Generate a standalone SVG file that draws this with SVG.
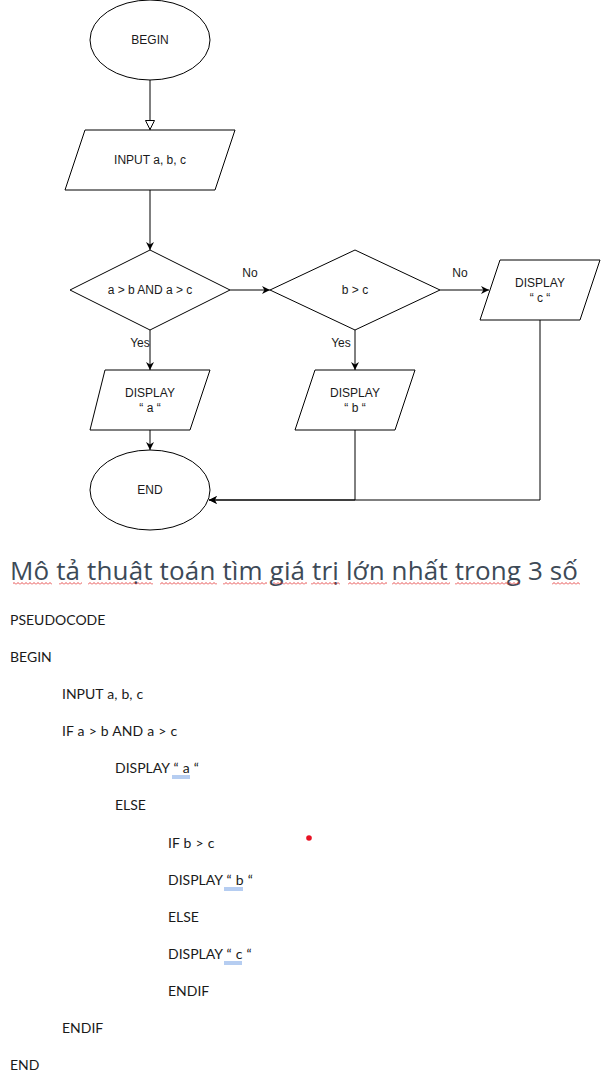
<svg xmlns="http://www.w3.org/2000/svg" width="601" height="1081" viewBox="0 0 601 1081">
<style>
.shape{fill:#ffffff;stroke:#000000;stroke-width:1}
.lbl{font-family:"Liberation Sans",Arial,sans-serif;font-size:12px;fill:#1a1a1a;text-anchor:middle}
.edge{fill:none;stroke:#000000;stroke-width:1}
.code{font-family:Lato,"Noto Sans",sans-serif;font-size:14px;fill:#1a1a1a;word-spacing:0.5px}
.title{font-family:"Open Sans","Noto Sans",sans-serif;font-size:26px;fill:#3d4a57}
.ul{stroke:#6d9be3;stroke-width:1}
</style>
<defs>
<marker id="classic" viewBox="0 0 10 10" refX="10" refY="5" markerWidth="8" markerHeight="8" markerUnits="userSpaceOnUse" orient="auto">
<path d="M0,0 L10,5 L0,10 L3,5 Z" fill="#000"/>
</marker>
<marker id="block" viewBox="0 0 10 10" refX="10" refY="5" markerWidth="10" markerHeight="10" markerUnits="userSpaceOnUse" orient="auto">
<path d="M0.5,0.5 L9.5,5 L0.5,9.5 Z" fill="#fff" stroke="#000" stroke-width="1"/>
</marker>
<pattern id="squig" width="4" height="3" patternUnits="userSpaceOnUse">
<path d="M0,2.5 L2,0.5 L4,2.5" fill="none" stroke="#e02020" stroke-width="0.8"/>
</pattern>
</defs>
<rect width="601" height="1081" fill="#ffffff"/>

<g id="connectors">
<path class="edge" d="M150,80 V130" marker-end="url(#block)"/>
<path class="edge" d="M150,190 V250" marker-end="url(#classic)"/>
<path class="edge" d="M230,290 H270" marker-end="url(#classic)"/>
<path class="edge" d="M440,290 H489" marker-end="url(#classic)"/>
<path class="edge" d="M150,330 V370" marker-end="url(#classic)"/>
<path class="edge" d="M355,330 V370" marker-end="url(#classic)"/>
<path class="edge" d="M150,430 V450" marker-end="url(#classic)"/>
<path class="edge" d="M355,430 V500 H209" marker-end="url(#classic)"/>
<path class="edge" d="M540,320 V500 H209" marker-end="url(#classic)"/>
<text class="lbl" x="250" y="277">No</text>
<text class="lbl" x="460" y="277">No</text>
<text class="lbl" x="140" y="347">Yes</text>
<text class="lbl" x="341" y="347">Yes</text>
</g>

<g id="begin">
<ellipse class="shape" cx="150" cy="40" rx="60" ry="40"/>
<text class="lbl" x="150" y="44">BEGIN</text>
</g>
<g id="input">
<polygon class="shape" points="85,130 235,130 215,190 65,190"/>
<text class="lbl" x="150" y="164">INPUT a, b, c</text>
</g>
<g id="cond1">
<polygon class="shape" points="70,290 150,250 230,290 150,330"/>
<text class="lbl" x="150" y="294">a &gt; b AND a &gt; c</text>
</g>
<g id="cond2">
<polygon class="shape" points="270,290 355,250 440,290 355,330"/>
<text class="lbl" x="355" y="294">b &gt; c</text>
</g>
<g id="display-c">
<polygon class="shape" points="500,260 600,260 580,320 480,320"/>
<text class="lbl" x="540" y="287">DISPLAY</text>
<text class="lbl" x="540" y="302" font-size="10">“ c “</text>
</g>
<g id="display-a">
<polygon class="shape" points="105,370 210,370 190,430 90,430"/>
<text class="lbl" x="150" y="397">DISPLAY</text>
<text class="lbl" x="150" y="412" font-size="10">“ a “</text>
</g>
<g id="display-b">
<polygon class="shape" points="315,370 415,370 395,430 295,430"/>
<text class="lbl" x="355" y="397">DISPLAY</text>
<text class="lbl" x="355" y="412" font-size="10">“ b “</text>
</g>
<g id="end">
<ellipse class="shape" cx="150" cy="490" rx="60" ry="40"/>
<text class="lbl" x="150" y="494">END</text>
</g>

<g id="title">
<text class="title" x="10" y="580" textLength="568" lengthAdjust="spacing">Mô tả thuật toán tìm giá trị lớn nhất trong 3 số</text>
<rect x="13" y="582" width="39" height="3" fill="url(#squig)"/>
<rect x="59" y="582" width="23" height="3" fill="url(#squig)"/>
<rect x="88" y="582" width="65" height="3" fill="url(#squig)"/>
<rect x="160" y="582" width="57" height="3" fill="url(#squig)"/>
<rect x="223" y="582" width="44" height="3" fill="url(#squig)"/>
<rect x="273" y="582" width="34" height="3" fill="url(#squig)"/>
<rect x="311" y="582" width="29" height="3" fill="url(#squig)"/>
<rect x="348" y="582" width="39" height="3" fill="url(#squig)"/>
<rect x="392" y="582" width="58" height="3" fill="url(#squig)"/>
<rect x="455" y="582" width="65" height="3" fill="url(#squig)"/>
<rect x="552" y="582" width="28" height="3" fill="url(#squig)"/>
</g>

<g id="pseudocode">
<text class="code" x="10" y="625">PSEUDOCODE</text>
<text class="code" x="10" y="662">BEGIN</text>
<text class="code" x="62" y="699">INPUT a, b, c</text>
<text class="code" x="62" y="736">IF a &gt; b AND a &gt; c</text>
<text class="code" x="115" y="773">DISPLAY “ a “</text>
<text class="code" x="115" y="810">ELSE</text>
<text class="code" x="168" y="848">IF b &gt; c</text>
<text class="code" x="168" y="885">DISPLAY “ b “</text>
<text class="code" x="168" y="922">ELSE</text>
<text class="code" x="168" y="959">DISPLAY “ c “</text>
<text class="code" x="168" y="996">ENDIF</text>
<text class="code" x="62" y="1033">ENDIF</text>
<text class="code" x="10" y="1070">END</text>
<line class="ul" x1="172" y1="776" x2="190" y2="776"/>
<line class="ul" x1="172" y1="778" x2="190" y2="778"/>
<line class="ul" x1="224" y1="888" x2="243" y2="888"/>
<line class="ul" x1="224" y1="890" x2="243" y2="890"/>
<line class="ul" x1="224" y1="962" x2="242" y2="962"/>
<line class="ul" x1="224" y1="964" x2="242" y2="964"/>
<circle cx="309" cy="838" r="2.8" fill="#e81123"/>
</g>
</svg>
